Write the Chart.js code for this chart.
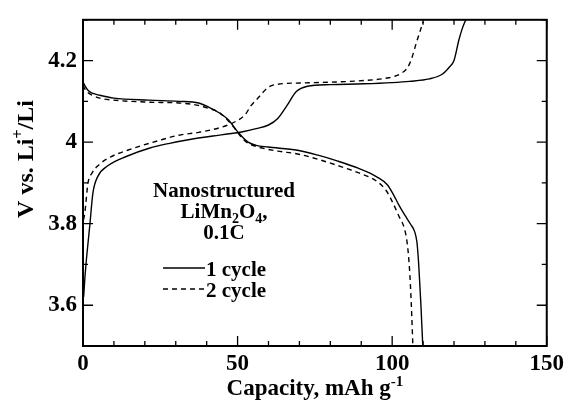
<!DOCTYPE html>
<html>
<head>
<meta charset="utf-8">
<script src="https://cdn.jsdelivr.net/npm/chart.js@4"></script>
<style>
  html, body { margin: 0; padding: 0; background: #fff; }
</style>
</head>
<body>
<canvas id="chart" width="568" height="404"></canvas>
<script>
const FONT = '"Liberation Serif", "Times New Roman", serif';

// ciclo 1: carica (sale) e scarica (scende)
const cap1Carica  = [0.2, 0.6, 1.2, 2.2, 3.2, 4.8, 8, 14.4, 21.4, 28, 35, 42, 48, 52, 56, 60, 63, 66, 69, 72.6, 80, 90.7, 100, 105.6, 112, 116.3, 118.4, 120, 121.6, 122.7, 123.8];
const volt1Carica = [3.62, 3.666, 3.72, 3.796, 3.875, 3.916, 3.942, 3.966, 3.985, 3.997, 4.007, 4.015, 4.021, 4.026, 4.033, 4.042, 4.058, 4.09, 4.124, 4.137, 4.141, 4.143, 4.146, 4.149, 4.155, 4.167, 4.183, 4.2, 4.251, 4.279, 4.3];
const cap1Scarica  = [0, 0.5, 1.6, 3, 5.4, 10, 21.3, 31, 37.4, 40.6, 44, 47, 50.2, 53.4, 56, 59.8, 69.4, 76, 82.2, 89, 95, 98.5, 100.5, 102, 104, 106, 107.3, 108, 108.5, 108.8, 109.3, 109.9];
const volt1Scarica = [4.147, 4.14, 4.127, 4.12, 4.115, 4.108, 4.103, 4.1, 4.096, 4.086, 4.072, 4.055, 4.024, 4.0, 3.992, 3.988, 3.98, 3.968, 3.954, 3.936, 3.915, 3.895, 3.87, 3.848, 3.822, 3.798, 3.78, 3.755, 3.71, 3.67, 3.6, 3.5];

// ciclo 2
const cap2Carica  = [0.2, 0.6, 1.6, 3, 4.8, 9, 14.4, 25, 31, 37.4, 45, 49.2, 52.4, 54.4, 56.6, 59.8, 63, 70, 80, 90.8, 99, 101.4, 103, 104.5, 105.5, 106.3, 107.8, 110];
const volt2Carica = [3.81, 3.827, 3.899, 3.925, 3.942, 3.964, 3.98, 4.005, 4.017, 4.024, 4.037, 4.05, 4.067, 4.09, 4.108, 4.134, 4.142, 4.145, 4.147, 4.151, 4.158, 4.163, 4.169, 4.178, 4.19, 4.205, 4.243, 4.295];
const cap2Scarica  = [0, 0.5, 1.5, 3, 5.4, 10, 21.3, 31, 37.4, 40.6, 43.8, 46, 48.6, 51.8, 54, 56.6, 63, 69.4, 76, 82.2, 89, 95, 98, 100.3, 102.2, 104, 104.9, 105.6, 106.2, 106.7];
const volt2Scarica = [4.14, 4.132, 4.122, 4.115, 4.108, 4.103, 4.098, 4.096, 4.09, 4.083, 4.074, 4.06, 4.038, 4.007, 3.995, 3.988, 3.978, 3.971, 3.958, 3.943, 3.925, 3.904, 3.882, 3.85, 3.818, 3.787, 3.75, 3.69, 3.6, 3.5];

const etichetteX = [0, 50, 100, 150];
const etichetteY = [3.6, 3.8, 4, 4.2];
const nomiSerie = ['1 cycle', '2 cycle'];

function punti(xs, ys) {
  return xs.map((x, i) => ({ x: x, y: ys[i] }));
}

function serie(nome, xs, ys, tratteggio) {
  return {
    label: nome,
    data: punti(xs, ys),
    showLine: true,
    borderColor: '#000',
    borderWidth: 1.4,
    borderDash: tratteggio,
    pointRadius: 0,
    cubicInterpolationMode: 'monotone'
  };
}

// testo con pedici/apici: pezzi [testo, spostamento verticale, scala]
function testoMisto(ctx, pezzi, size, x, y, allinea) {
  let larg = 0;
  pezzi.forEach(p => {
    ctx.font = 'bold ' + Math.round(size * (p[2] || 1)) + 'px ' + FONT;
    larg += ctx.measureText(p[0]).width;
  });
  let cx = allinea === 'center' ? x - larg / 2 : x;
  pezzi.forEach(p => {
    ctx.font = 'bold ' + Math.round(size * (p[2] || 1)) + 'px ' + FONT;
    ctx.fillText(p[0], cx, y + (p[1] || 0));
    cx += ctx.measureText(p[0]).width;
  });
}

const cornice = {
  id: 'cornice',
  afterDatasetsDraw(chart) {
    const { ctx, chartArea: a, scales: { x, y } } = chart;
    ctx.save();
    ctx.strokeStyle = '#000';
    ctx.fillStyle = '#000';

    // tacche verso l'interno su tutti e quattro i lati
    ctx.lineWidth = 1.3;
    ctx.beginPath();
    x.ticks.forEach(t => {
      const px = x.getPixelForValue(t.value);
      const l = Math.round(t.value) % 50 === 0 ? 10 : 5;
      ctx.moveTo(px, a.bottom); ctx.lineTo(px, a.bottom - l);
      ctx.moveTo(px, a.top); ctx.lineTo(px, a.top + l);
    });
    y.ticks.forEach(t => {
      const py = y.getPixelForValue(t.value);
      const l = etichetteY.includes(Math.round(t.value * 10) / 10) ? 10 : 5;
      ctx.moveTo(a.left, py); ctx.lineTo(a.left + l, py);
      ctx.moveTo(a.right, py); ctx.lineTo(a.right - l, py);
    });
    ctx.stroke();

    ctx.lineWidth = 2;
    ctx.strokeRect(a.left, a.top, a.right - a.left, a.bottom - a.top);

    // titoli degli assi
    ctx.textBaseline = 'alphabetic';
    testoMisto(ctx, [['Capacity, mAh g'], ['-1', -9, 0.65]], 23, (a.left + a.right) / 2, 395, 'center');
    ctx.save();
    ctx.translate(33, 159);
    ctx.rotate(-Math.PI / 2);
    testoMisto(ctx, [['V vs. Li'], ['+', -10, 0.65], ['/Li']], 24, 0, 0, 'center');
    ctx.restore();

    // nota dentro il grafico
    testoMisto(ctx, [['Nanostructured']], 21, 224, 197, 'center');
    testoMisto(ctx, [['LiMn'], ['2', 5, 0.65], ['O'], ['4', 5, 0.65], [',']], 21, 224, 218, 'center');
    testoMisto(ctx, [['0.1C']], 21, 224, 239, 'center');

    // legenda
    const voci = [chart.data.datasets[0], chart.data.datasets[2]];
    voci.forEach((ds, i) => {
      const yy = 268 + i * 21;
      ctx.lineWidth = ds.borderWidth;
      ctx.setLineDash(ds.borderDash || []);
      ctx.beginPath();
      ctx.moveTo(163, yy);
      ctx.lineTo(205, yy);
      ctx.stroke();
      ctx.setLineDash([]);
      testoMisto(ctx, [[ds.label]], 21, 206, yy + 8, 'left');
    });
    ctx.restore();
  }
};

const tickFont = { family: FONT, size: 23, weight: 'bold' };

new Chart(document.getElementById('chart').getContext('2d'), {
  type: 'scatter',
  data: {
    datasets: [
      serie(nomiSerie[0], cap1Carica, volt1Carica, []),
      serie(nomiSerie[0], cap1Scarica, volt1Scarica, []),
      serie(nomiSerie[1], cap2Carica, volt2Carica, [5, 4]),
      serie(nomiSerie[1], cap2Scarica, volt2Scarica, [5, 4])
    ]
  },
  options: {
    responsive: false,
    animation: false,
    layout: { padding: { top: 13, right: 16, left: 0, bottom: 0 } },
    plugins: { legend: { display: false }, tooltip: { enabled: false } },
    scales: {
      x: {
        type: 'linear', min: 0, max: 150,
        afterFit: s => { s.height = 58; },
        grid: { display: false, drawTicks: false },
        border: { display: false },
        ticks: {
          stepSize: 10, autoSkip: false, maxRotation: 0, padding: 4,
          color: '#000', font: tickFont,
          callback: v => etichetteX.includes(Math.round(v)) ? String(Math.round(v)) : ''
        }
      },
      y: {
        type: 'linear', min: 3.5, max: 4.3,
        afterFit: s => { s.width = 83; },
        grid: { display: false, drawTicks: false },
        border: { display: false },
        ticks: {
          stepSize: 0.1, autoSkip: false, padding: 6,
          color: '#000', font: tickFont,
          callback: v => {
            const r = Math.round(v * 10) / 10;
            return etichetteY.includes(r) ? String(r) : '';
          }
        }
      }
    }
  },
  plugins: [cornice]
});
</script>
</body>
</html>
